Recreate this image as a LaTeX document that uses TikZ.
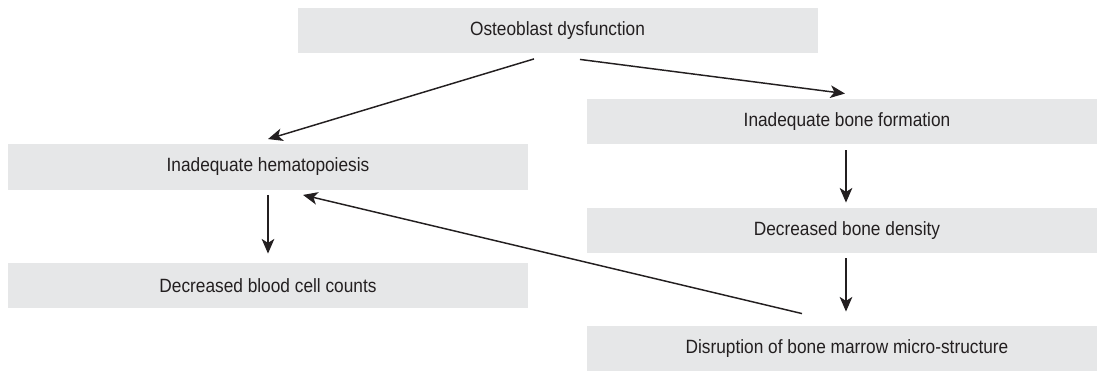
\documentclass[tikz,border=0pt]{standalone}
\usepackage{fontspec}
\setmainfont{Liberation Sans}[FakeStretch=0.9]
\usetikzlibrary{arrows.meta,calc}
\definecolor{boxgray}{HTML}{E6E7E8}
\definecolor{inkdark}{HTML}{231F20}
\begin{document}
\begin{tikzpicture}[x=0.75pt,y=-0.75pt]
            \useasboundingbox (0,0) rectangle (1097,371);
            \begin{scope}[every node/.style={rectangle,fill=boxgray,text=inkdark,inner sep=0pt,
                    font=\fontsize{14.4}{16}\selectfont,minimum width=390pt,minimum height=34pt}]
                \node (osteo) at (557.5,30.5) {Osteoblast dysfunction};
                \node (hemato) at (268,167) {Inadequate hematopoiesis};
                \node (blood) at (268,285.5) {Decreased blood cell counts};
                \node (formation) at (847,121.5) {Inadequate bone formation};
                \node (density) at (847,230.5) {Decreased bone density};
                \node (marrow) at (847,348.5) {Disruption of bone marrow micro-structure};
            \end{scope}
            \begin{scope}[every edge/.style={draw=inkdark,line width=1.1pt,-{Stealth[length=11pt,width=9.5pt,inset=3pt]}}]
                \path
                    ($(osteo.south)+(-23.5,5.5)$) edge ($(hemato.north)+(0,-5)$)
                    ($(osteo.south)+(22.5,6)$) edge ($(formation.north)+(-2,-5)$)
                    ($(formation.south)+(-1,6)$) edge ($(density.north)+(-1,-5)$)
                    ($(density.south)+(-1,5)$) edge ($(marrow.north)+(-1,-14)$)
                    ($(hemato.south)+(0,5)$) edge ($(blood.north)+(0,-9)$)
                    ($(marrow.north)+(-45,-12)$) edge ($(hemato.south)+(35,5)$);
            \end{scope}
        \end{tikzpicture}
\end{document}
